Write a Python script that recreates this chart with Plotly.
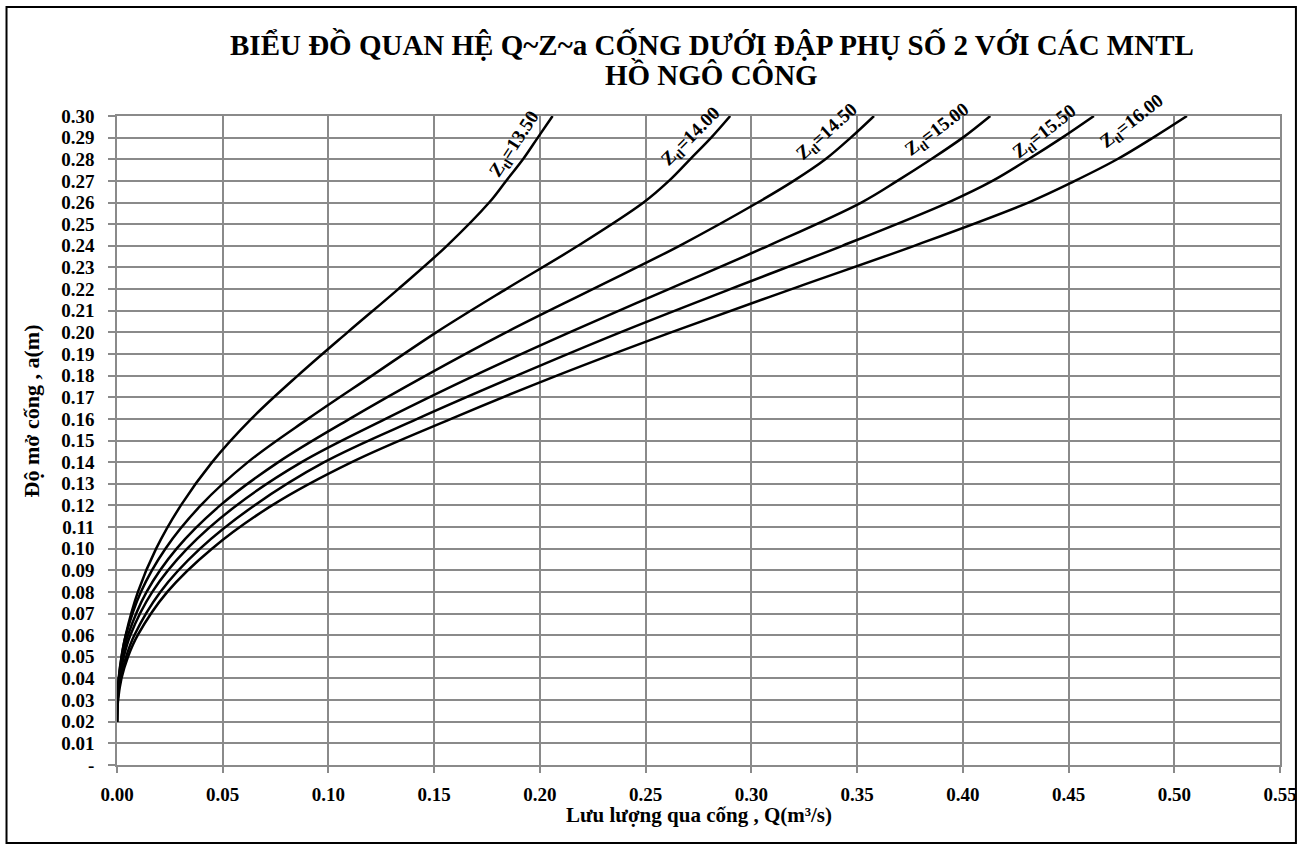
import plotly.graph_objects as go

# ---------------- data ----------------
A_LEVELS = [0.02, 0.03, 0.04, 0.05, 0.06, 0.08, 0.10, 0.12, 0.14, 0.16, 0.18,
            0.20, 0.22, 0.24, 0.26, 0.27, 0.28, 0.29, 0.30]

Q_13_50 = [0.000, 0.0002, 0.0009, 0.0022, 0.0041, 0.0099, 0.0185, 0.0302, 0.0450, 0.0635, 0.0855,
           0.109, 0.133, 0.156, 0.176, 0.184, 0.192, 0.199, 0.206]
Q_14_00 = [0.000, 0.00014, 0.0008, 0.0021, 0.0042, 0.0113, 0.0229, 0.0396, 0.0619, 0.0903, 0.1206,
           0.151, 0.184, 0.218, 0.249, 0.261, 0.271, 0.281, 0.290]
Q_14_50 = [0.000, 0.00017, 0.0009, 0.0026, 0.0052, 0.0140, 0.0282, 0.0488, 0.0763, 0.110, 0.146,
           0.184, 0.225, 0.266, 0.303, 0.320, 0.335, 0.347, 0.358]
Q_15_00 = [0.000, 0.00023, 0.0012, 0.0032, 0.0063, 0.0167, 0.0332, 0.0565, 0.0873, 0.127, 0.169,
           0.214, 0.261, 0.308, 0.352, 0.369, 0.385, 0.400, 0.413]
Q_15_50 = [0.000, 0.00036, 0.0017, 0.0043, 0.0082, 0.0205, 0.0393, 0.065, 0.098, 0.142, 0.189,
           0.238, 0.290, 0.343, 0.393, 0.414, 0.431, 0.447, 0.462]
Q_16_00 = [0.000, 0.0005, 0.0021, 0.0052, 0.0098, 0.0238, 0.0449, 0.0733, 0.111, 0.158, 0.208,
           0.262, 0.319, 0.377, 0.431, 0.453, 0.473, 0.490, 0.506]

SERIES_NAMES = ["13.50", "14.00", "14.50", "15.00", "15.50", "16.00"]
SERIES_Q = [Q_13_50, Q_14_00, Q_14_50, Q_15_00, Q_15_50, Q_16_00]

X_TICK_VALS = [0.00, 0.05, 0.10, 0.15, 0.20, 0.25, 0.30, 0.35, 0.40, 0.45, 0.50, 0.55]
X_TICK_TEXT = ["0.00", "0.05", "0.10", "0.15", "0.20", "0.25", "0.30", "0.35",
               "0.40", "0.45", "0.50", "0.55"]
Y_TICK_VALS = [round(i * 0.01, 2) for i in range(31)]
Y_TICK_TEXT = ["-"] + ["%.2f" % v for v in Y_TICK_VALS[1:]]

TITLE_1 = "BIỂU ĐỒ QUAN HỆ Q~Z~a CỐNG DƯỚI ĐẬP PHỤ SỐ 2 VỚI CÁC MNTL"
TITLE_2 = "HỒ NGÔ CÔNG"
X_TITLE = "Lưu lượng qua cống , Q(m³/s)"
Y_TITLE = "Độ mở cống , a(m)"

# label placement (layout only)
LABEL_X = [0.1880, 0.2715, 0.3360, 0.3880, 0.4390, 0.4800]
LABEL_Y = [0.2866, 0.2903, 0.2926, 0.2936, 0.2924, 0.2972]
LABEL_ANGLE = [-57, -45, -42, -37, -38, -38]

FONT = "Liberation Serif"
GRID = "#8a8a8a"

fig = go.Figure()
for name, q in zip(SERIES_NAMES, SERIES_Q):
    fig.add_trace(go.Scatter(
        x=q, y=A_LEVELS, mode="lines", name=name,
        line=dict(color="black", width=2.5, shape="spline", smoothing=1.0),
        showlegend=False, hoverinfo="x+y"))

annotations = []
for name, lx, ly, ang in zip(SERIES_NAMES, LABEL_X, LABEL_Y, LABEL_ANGLE):
    annotations.append(dict(
        x=lx, y=ly, xref="x", yref="y", showarrow=False,
        text="Z<sub>tl</sub>=" + name, textangle=ang,
        font=dict(family=FONT, size=19, color="black", weight="bold"),
        xanchor="center", yanchor="middle"))

annotations += [
    dict(x=0.5116, y=1.1094, xref="paper", yref="paper", showarrow=False,
         text=TITLE_1, font=dict(family=FONT, size=29, color="black", weight="bold"),
         xanchor="center", yanchor="middle"),
    dict(x=0.5116, y=1.0632, xref="paper", yref="paper", showarrow=False,
         text=TITLE_2, font=dict(family=FONT, size=29, color="black", weight="bold"),
         xanchor="center", yanchor="middle"),
    dict(x=0.5, y=-0.077, xref="paper", yref="paper", showarrow=False,
         text=X_TITLE, font=dict(family=FONT, size=21, color="black", weight="bold"),
         xanchor="center", yanchor="middle"),
    dict(x=-0.0727, y=0.5455, xref="paper", yref="paper", showarrow=False,
         text=Y_TITLE, textangle=-90,
         font=dict(family=FONT, size=22, color="black", weight="bold"),
         xanchor="center", yanchor="middle"),
]

fig.update_layout(
    width=1309, height=849,
    margin=dict(l=117, r=23, t=116, b=84),
    paper_bgcolor="white", plot_bgcolor="white",
    annotations=annotations,
    shapes=[dict(type="rect", xref="paper", yref="paper",
                 x0=-0.0950, x1=1.0137, y0=-0.1203, y1=1.1680,
                 line=dict(color="black", width=2), fillcolor="rgba(0,0,0,0)", layer="below")],
)

fig.update_xaxes(
    range=[0, 0.55], tickvals=X_TICK_VALS, ticktext=X_TICK_TEXT,
    showgrid=True, gridcolor=GRID, gridwidth=1.5,
    showline=True, linecolor=GRID, linewidth=1.5, mirror=True,
    ticks="outside", ticklen=6, tickcolor=GRID, tickwidth=1.5,
    tickfont=dict(family=FONT, size=19, color="black", weight="bold"),
    ticklabelstandoff=5, zeroline=False)
fig.update_yaxes(
    range=[0, 0.30], tickvals=Y_TICK_VALS, ticktext=Y_TICK_TEXT,
    showgrid=True, gridcolor=GRID, gridwidth=1.5,
    showline=True, linecolor=GRID, linewidth=1.5, mirror=True,
    ticks="outside", ticklen=7, tickcolor=GRID, tickwidth=1.5,
    tickfont=dict(family=FONT, size=19, color="black", weight="bold"),
    ticklabelstandoff=10, zeroline=False)

fig.write_html("out.html")
